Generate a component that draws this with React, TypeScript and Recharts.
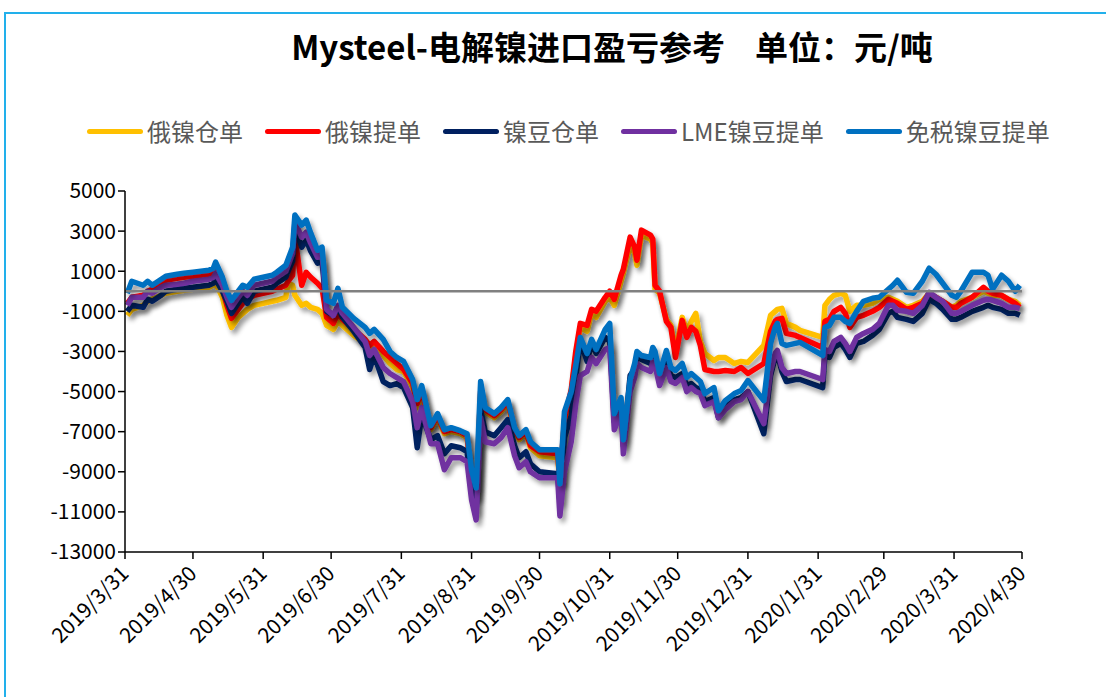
import React from "react";
import { LineChart, Line, XAxis, YAxis, ReferenceLine } from "recharts";

const FONT = '"Noto Sans CJK SC", "Noto Sans", sans-serif';

const dates = [
  "2019/4/1", "2019/4/3", "2019/4/8", "2019/4/10", "2019/4/12", "2019/4/16", "2019/4/18", "2019/4/23",
  "2019/4/26", "2019/4/30", "2019/5/7", "2019/5/9", "2019/5/10", "2019/5/13", "2019/5/15", "2019/5/17",
  "2019/5/20", "2019/5/22", "2019/5/24", "2019/5/27", "2019/5/31", "2019/6/4", "2019/6/6", "2019/6/10",
  "2019/6/11", "2019/6/13", "2019/6/14", "2019/6/17", "2019/6/19", "2019/6/21", "2019/6/24", "2019/6/26",
  "2019/6/28", "2019/7/1", "2019/7/3", "2019/7/5", "2019/7/10", "2019/7/15", "2019/7/17", "2019/7/19",
  "2019/7/23", "2019/7/26", "2019/7/29", "2019/8/1", "2019/8/5", "2019/8/7", "2019/8/9", "2019/8/13",
  "2019/8/16", "2019/8/19", "2019/8/22", "2019/8/26", "2019/8/29", "2019/8/31", "2019/9/2", "2019/9/4",
  "2019/9/6", "2019/9/10", "2019/9/13", "2019/9/16", "2019/9/19", "2019/9/21", "2019/9/24", "2019/9/26",
  "2019/9/30", "2019/10/8", "2019/10/9", "2019/10/11", "2019/10/14", "2019/10/16", "2019/10/18", "2019/10/21",
  "2019/10/23", "2019/10/25", "2019/10/29", "2019/10/31", "2019/11/2", "2019/11/5", "2019/11/6", "2019/11/9",
  "2019/11/11", "2019/11/12", "2019/11/14", "2019/11/18", "2019/11/19", "2019/11/20", "2019/11/22", "2019/11/25",
  "2019/11/27", "2019/11/29", "2019/12/2", "2019/12/4", "2019/12/6", "2019/12/8", "2019/12/10", "2019/12/12",
  "2019/12/16", "2019/12/18", "2019/12/21", "2019/12/25", "2019/12/28", "2019/12/31", "2020/1/7", "2020/1/10",
  "2020/1/12", "2020/1/13", "2020/1/15", "2020/1/17", "2020/1/21", "2020/1/23", "2020/2/2", "2020/2/3",
  "2020/2/5", "2020/2/7", "2020/2/10", "2020/2/12", "2020/2/14", "2020/2/17", "2020/2/20", "2020/2/24",
  "2020/2/27", "2020/3/2", "2020/3/4", "2020/3/6", "2020/3/10", "2020/3/13", "2020/3/17", "2020/3/20",
  "2020/3/23", "2020/3/26", "2020/3/30", "2020/4/1", "2020/4/3", "2020/4/8", "2020/4/13", "2020/4/15",
  "2020/4/17", "2020/4/21", "2020/4/24", "2020/4/27", "2020/4/29",
];

// 俄镍仓单
const ruCang = [
  -1200, -900, -700, -500, -400, -200, -100, 0, 50, 100, 200, 300, 400, -300, -1200, -1800,
  -1300, -1100, -900, -700, -600, -500, -450, -300, 400, 300, -200, -700, -600, -800, -900, -1100,
  -1700, -1900, -1500, -1700, -2200, -2600, -2900, -2700, -3200, -3600, -3900, -4000, -4800, -5800, -5000, -6900,
  -6300, -7100, -7000, -7100, -7300, -9200, -10200, -5100, -6000, -6300, -6000, -5600, -7000, -7400, -7100, -7800,
  -8200, -8300, -9500, -6500, -5000, -3200, -1800, -2000, -1100, -1300, -500, -300, -700, 500, 900, 2300,
  1900, 1300, 2800, 2600, 2400, 100, -100, -1400, -1700, -3000, -1300, -2000, -1500, -1100, -2500, -3100,
  -3450, -3300, -3300, -3600, -3500, -3550, -2700, -1200, -1000, -900, -850, -1600, -1800, -1950, -2300, -700,
  -400, -200, -100, -200, -1000, -700, -700, -600, -400, -300, -400, -500, -800, -700, -500, -100,
  -300, -500, -800, -700, -500, -300, 0, -100, -200, -200, -400, -500, -700,
];

// 俄镍提单
const ruTi = [
  -600, -300, -200, 0, 100, 400, 550, 650, 700, 750, 850, 950, 1100, 100, -700, -1350,
  -900, -600, -400, -200, -100, 0, 100, 300, 500, 800, 2700, 300, 950, 700, 400, 150,
  -1300, -1600, -1100, -1400, -1900, -2400, -2700, -2500, -3000, -3300, -3600, -3900, -4600, -5600, -4900, -6800,
  -6200, -7000, -6900, -7000, -7200, -9300, -10300, -5000, -5900, -6200, -5900, -5500, -6900, -7300, -7000, -7700,
  -8000, -8100, -9500, -6400, -4900, -3000, -1600, -1700, -900, -1000, -300, 0, -400, 800, 1100, 2700,
  2200, 1550, 3050, 2800, 2600, 300, 0, -1500, -1800, -3300, -1450, -2300, -1800, -2000, -2700, -3900,
  -4000, -4000, -3950, -4000, -3800, -4100, -3600, -2000, -1500, -1400, -1350, -2100, -2200, -2300, -2800, -1500,
  -1400, -1000, -800, -1100, -1800, -1300, -1200, -1000, -800, -400, -500, -600, -900, -800, -600, -100,
  -300, -500, -800, -800, -600, -300, 200, 0, -100, -200, -400, -600, -800,
];

// 镍豆仓单
const douCang = [
  -1000, -700, -800, -400, -500, -200, 0, 100, 150, 200, 300, 400, 600, 0, -500, -1100,
  -600, -300, -600, 0, 100, 200, 400, 700, 1000, 1500, 3200, 2200, 2550, 2000, 1400, 1500,
  -1000, -1200, -800, -1300, -2000, -2800, -3900, -3200, -4500, -4700, -4600, -4800, -5800, -7800, -6200, -7400,
  -7200, -8100, -7700, -7800, -8000, -10000, -11000, -5900, -7000, -7200, -6800, -6400, -7700, -8300, -8000, -8600,
  -9000, -9100, -10500, -7300, -6200, -4300, -2500, -3500, -2600, -3100, -2300, -2500, -6500, -5600, -7700, -4200,
  -3900, -3300, -3400, -3600, -3200, -3300, -4400, -3500, -4200, -4300, -4100, -4700, -4600, -4800, -4900, -5500,
  -5300, -6300, -5800, -5400, -5300, -5000, -7100, -4200, -3300, -3100, -4000, -4500, -4400, -4400, -4800, -3200,
  -3300, -2800, -2600, -2900, -3300, -2600, -2500, -2200, -1900, -1100, -1000, -1300, -1400, -1500, -1100, -400,
  -600, -900, -1400, -1400, -1300, -1000, -800, -700, -800, -900, -1100, -1100, -1200,
];

// LME镍豆提单
const lmeTi = [
  -700, -300, -300, 0, -100, 200, 300, 350, 400, 500, 600, 700, 900, 300, -300, -800,
  -300, 0, -200, 300, 400, 500, 700, 1000, 1300, 1900, 3450, 2700, 2950, 2400, 1700, 1900,
  -900, -1200, -700, -1100, -1800, -2500, -3200, -2900, -3800, -4100, -4300, -4500, -5500, -6800, -5800, -7600,
  -7600, -8900, -8300, -8300, -8500, -10400, -11400, -6300, -7500, -7600, -7300, -6800, -8200, -8800, -8500, -9000,
  -9300, -9300, -11200, -9000, -7500, -5600, -4200, -4000, -3300, -3600, -2900, -2800, -6900, -6000, -8100, -5000,
  -4300, -3600, -3800, -4000, -3500, -3700, -4700, -3800, -4500, -4600, -4300, -5000, -4800, -5000, -5100, -5700,
  -5500, -6300, -5900, -5500, -5400, -5000, -6600, -4000, -3100, -2950, -3800, -4100, -4000, -4000, -4400, -2900,
  -3000, -2500, -2300, -2600, -3000, -2300, -2100, -1900, -1600, -700, -700, -950, -1000, -1100, -700, -50,
  -300, -500, -1100, -1100, -1000, -700, -450, -400, -450, -600, -800, -800, -850,
];

// 免税镍豆提单
const mianTi = [
  -100, 500, 300, 500, 300, 600, 750, 850, 900, 950, 1050, 1150, 1450, 700, 0, -450,
  0, 300, 200, 600, 700, 800, 950, 1300, 1600, 2200, 3800, 3300, 3550, 2900, 2050, 2200,
  -450, -600, 150, -800, -1350, -1800, -2100, -1900, -2400, -3000, -3300, -3500, -4400, -5400, -4700, -6700,
  -6100, -6900, -6800, -6950, -7100, -8900, -9800, -4500, -5800, -6100, -5800, -5400, -6800, -7200, -6900, -7500,
  -7900, -7900, -9600, -6000, -5000, -3700, -2300, -3100, -2400, -2900, -1900, -1600, -6100, -5300, -7400, -4400,
  -3600, -3000, -3200, -3300, -2800, -3000, -4100, -2950, -3800, -3950, -3600, -4300, -4100, -4300, -4500, -5100,
  -4800, -5950, -5450, -5100, -4950, -4450, -5450, -2600, -1800, -1600, -2600, -2700, -2600, -2550, -3200, -1800,
  -1700, -1300, -1300, -1500, -1600, -1000, -500, -350, -300, 100, 300, 550, -50, -100, 500, 1150,
  850, 400, -200, -300, 0, 950, 950, 800, 100, 800, 500, 0, 300,
];

const seriesNames = ["俄镍仓单", "俄镍提单", "镍豆仓单", "LME镍豆提单", "免税镍豆提单"];
const seriesColors = ["#FFC000", "#FF0000", "#002060", "#7030A0", "#0070C0"];
const seriesValues = [ruCang, ruTi, douCang, lmeTi, mianTi];

const tickLabels = [
  "2019/3/31", "2019/4/30", "2019/5/31", "2019/6/30", "2019/7/31", "2019/8/31", "2019/9/30",
  "2019/10/31", "2019/11/30", "2019/12/31", "2020/1/31", "2020/2/29", "2020/3/31", "2020/4/30",
];
const yTicks = [5000, 3000, 1000, -1000, -3000, -5000, -7000, -9000, -11000, -13000];

const dayOf = (s: string) => {
  const [y, m, d] = s.split("/").map(Number);
  return (Date.UTC(y, m - 1, d) - Date.UTC(2019, 2, 31)) / 86400000;
};

const xTicks = tickLabels.map(dayOf);

const rows = dates.map((d, i) => {
  const row: Record<string, number> = { t: dayOf(d) };
  seriesValues.forEach((vals, k) => {
    row["s" + k] = vals[i];
  });
  return row;
});

const DateTick = (props: any) => {
  const { x, y, payload } = props;
  const idx = xTicks.indexOf(payload.value);
  const ax = x + 5;
  const ay = y + 14;
  return (
    <text
      x={ax}
      y={ay}
      transform={`rotate(-45 ${ax} ${ay})`}
      textAnchor="end"
      fontSize={21}
      fontFamily={FONT}
      fill="#000"
    >
      {idx >= 0 ? tickLabels[idx] : ""}
    </text>
  );
};

// legend drawn as plain html from the same arrays, so it does not push the plot down
function LegendRow() {
  return (
    <div style={{ position: "absolute", left: 87, top: 116, display: "flex", alignItems: "center", fontFamily: FONT }}>
      {seriesNames.map((name, k) => (
        <div key={name} style={{ display: "flex", alignItems: "center", marginRight: 22 }}>
          <div style={{ width: 56, height: 5, borderRadius: 3, background: seriesColors[k], marginRight: 4 }} />
          <span style={{ fontSize: 24, color: "#595959", lineHeight: "30px" }}>{name}</span>
        </div>
      ))}
    </div>
  );
}

export default function App() {
  return (
    <div style={{ position: "absolute", left: 0, top: 0, width: 1106, height: 697, overflow: "hidden", background: "#fff" }}>
      <div
        style={{
          position: "absolute",
          left: 4,
          top: 12,
          width: 1130,
          height: 720,
          border: "2px solid #22B0EB",
          boxSizing: "border-box",
        }}
      />
      <div
        style={{
          position: "absolute",
          left: 0,
          top: 24,
          width: 1224,
          textAlign: "center",
          fontFamily: FONT,
          fontWeight: 700,
          fontSize: 33,
          color: "#000",
          whiteSpace: "pre",
          lineHeight: "44px",
        }}
      >
        {"Mysteel-电解镍进口盈亏参考    单位：元/吨"}
      </div>
      <LegendRow />
      <div style={{ position: "absolute", left: 0, top: 0 }}>
        <LineChart width={1106} height={697} data={rows} margin={{ top: 191, right: 84, left: 45, bottom: 45 }}>
          {/* soft drop shadow under every series, like the excel original */}
          <defs>
            <filter id="lineShadow" filterUnits="userSpaceOnUse" x={0} y={0} width={1106} height={697}>
              <feGaussianBlur in="SourceAlpha" stdDeviation={2.5} result="blur" />
              <feOffset in="blur" dx={3} dy={4} result="off" />
              <feComponentTransfer in="off" result="shadow">
                <feFuncA type="linear" slope={0.4} />
              </feComponentTransfer>
              <feMerge>
                <feMergeNode in="shadow" />
                <feMergeNode in="SourceGraphic" />
              </feMerge>
            </filter>
          </defs>
          <XAxis
            dataKey="t"
            type="number"
            domain={[0, 396]}
            ticks={xTicks}
            interval={0}
            tick={<DateTick />}
            height={100}
            axisLine={{ stroke: "#000", strokeWidth: 1.5 }}
            tickLine={{ stroke: "#000", strokeWidth: 1.5 }}
            tickSize={7}
          />
          <YAxis
            type="number"
            domain={[-13000, 5000]}
            ticks={yTicks}
            interval={0}
            width={80}
            tick={{ fontSize: 21, fill: "#000", fontFamily: FONT }}
            axisLine={{ stroke: "#000", strokeWidth: 1.5 }}
            tickLine={{ stroke: "#000", strokeWidth: 1.5 }}
            tickSize={7}
          />
          {seriesNames.map((name, k) => (
            <Line
              key={name}
              type="linear"
              dataKey={"s" + k}
              name={name}
              stroke={seriesColors[k]}
              strokeWidth={5.5}
              strokeLinejoin="round"
              filter="url(#lineShadow)"
              dot={false}
              activeDot={false}
              isAnimationActive={false}
            />
          ))}
          <ReferenceLine y={0} stroke="#808080" strokeWidth={2.5} />
        </LineChart>
      </div>
    </div>
  );
}
